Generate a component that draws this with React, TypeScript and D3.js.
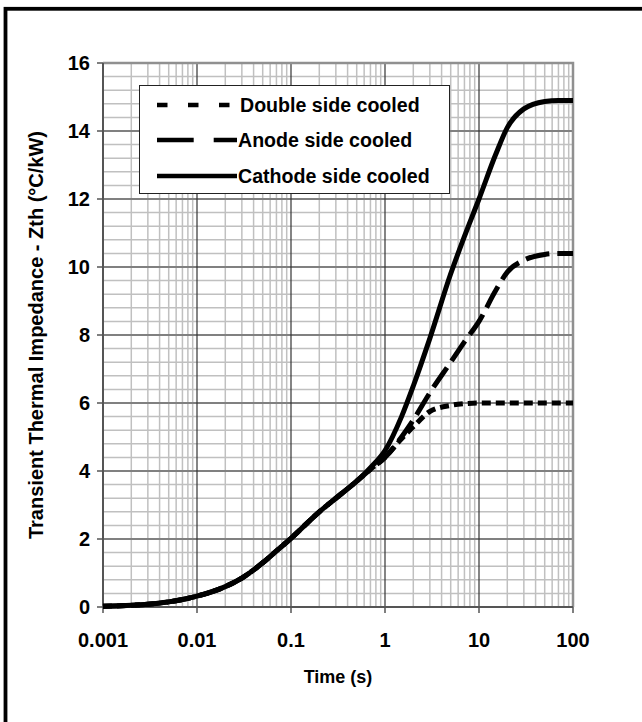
import { useEffect, useRef } from "react";
import * as d3 from "d3";

const W = 642;
const H = 722;

// time points (s), shared by the three series
const times = [
  0.001, 0.002, 0.003, 0.005, 0.007, 0.01, 0.02, 0.03, 0.05, 0.07, 0.1, 0.2, 0.3, 0.5, 0.7, 1,
  1.5, 2, 3, 5, 7, 10, 15, 20, 30, 50, 70, 100,
];
const doubleSide = [
  0.02, 0.05, 0.08, 0.15, 0.22, 0.32, 0.6, 0.85, 1.3, 1.65, 2.02, 2.8, 3.2, 3.7, 4.05, 4.4,
  4.95, 5.3, 5.75, 5.93, 5.98, 6.0, 6.0, 6.0, 6.0, 6.0, 6.0, 6.0,
];
const anodeSide = [
  0.02, 0.05, 0.08, 0.15, 0.22, 0.32, 0.6, 0.85, 1.3, 1.65, 2.02, 2.8, 3.2, 3.7, 4.05, 4.4,
  5.0, 5.5, 6.3, 7.2, 7.8, 8.4, 9.3, 9.85, 10.2, 10.37, 10.4, 10.4,
];
const cathodeSide = [
  0.02, 0.05, 0.08, 0.15, 0.22, 0.32, 0.6, 0.85, 1.3, 1.65, 2.02, 2.8, 3.2, 3.7, 4.1, 4.6,
  5.6, 6.5, 7.9, 9.8, 10.9, 12.0, 13.3, 14.1, 14.65, 14.87, 14.9, 14.9,
];

const seriesNames = ["Double side cooled", "Anode side cooled", "Cathode side cooled"];
const seriesValues = [doubleSide, anodeSide, cathodeSide];
const plotDash = ["9 5", "24 8", null];
const legendDash = ["10.5 20.5", "36.7 20", null];

const xTicks = [0.001, 0.01, 0.1, 1, 10, 100];
const xTickLabels = ["0.001", "0.01", "0.1", "1", "10", "100"];
const yTicks = [0, 2, 4, 6, 8, 10, 12, 14, 16];

const FONT = "'Liberation Sans', Arial, sans-serif";

export default function App() {
  const ref = useRef<SVGSVGElement>(null);

  useEffect(() => {
    const svg = d3.select(ref.current);
    svg.selectAll("*").remove();

    const x = d3.scaleLog().domain([0.001, 100]).range([103, 573]);
    const y = d3.scaleLinear().domain([0, 16]).range([607, 63]);

    svg.append("rect").attr("width", W).attr("height", H).attr("fill", "#fff");

    // outer frame (runs off the right and bottom edges)
    svg
      .append("rect")
      .attr("x", 5.5)
      .attr("y", 8.8)
      .attr("width", W + 20)
      .attr("height", H + 20)
      .attr("fill", "none")
      .attr("stroke", "#000")
      .attr("stroke-width", 3.8);

    const g = svg.append("g");

    // minor vertical grid
    const minorX: number[] = [];
    for (let e = -3; e < 2; e++) for (let k = 2; k <= 9; k++) minorX.push(k * Math.pow(10, e));
    g.selectAll("line.mx")
      .data(minorX)
      .join("line")
      .attr("x1", (d) => x(d))
      .attr("x2", (d) => x(d))
      .attr("y1", y(0))
      .attr("y2", y(16))
      .attr("stroke", "#c0c0c0")
      .attr("stroke-width", 1.5);

    // minor horizontal grid
    const minorY = d3.range(0, 16.001, 0.4).filter((v) => Math.abs(v / 2 - Math.round(v / 2)) > 1e-6);
    g.selectAll("line.my")
      .data(minorY)
      .join("line")
      .attr("x1", x(0.001))
      .attr("x2", x(100))
      .attr("y1", (d) => y(d))
      .attr("y2", (d) => y(d))
      .attr("stroke", "#c0c0c0")
      .attr("stroke-width", 1.5);

    // major horizontal
    g.selectAll("line.My")
      .data(yTicks.slice(1, -1))
      .join("line")
      .attr("x1", x(0.001))
      .attr("x2", x(100))
      .attr("y1", (d) => y(d))
      .attr("y2", (d) => y(d))
      .attr("stroke", "#808080")
      .attr("stroke-width", 2);

    // major vertical
    g.selectAll("line.Mx")
      .data(xTicks.slice(1, -1))
      .join("line")
      .attr("x1", (d) => x(d))
      .attr("x2", (d) => x(d))
      .attr("y1", y(0))
      .attr("y2", y(16))
      .attr("stroke", "#333")
      .attr("stroke-width", 1.2);

    // plot frame top/right
    g.append("path")
      .attr("d", `M${x(0.001)},${y(16)}H${x(100)}V${y(0)}`)
      .attr("fill", "none")
      .attr("stroke", "#909090")
      .attr("stroke-width", 2.5);

    // axes
    g.append("path")
      .attr("d", `M${x(0.001)},${y(16)}V${y(0)}H${x(100)}`)
      .attr("fill", "none")
      .attr("stroke", "#555")
      .attr("stroke-width", 2);
    g.selectAll("line.yt")
      .data(yTicks)
      .join("line")
      .attr("x1", x(0.001) - 6)
      .attr("x2", x(0.001))
      .attr("y1", (d) => y(d))
      .attr("y2", (d) => y(d))
      .attr("stroke", "#555")
      .attr("stroke-width", 1.5);
    g.selectAll("line.xt")
      .data(xTicks)
      .join("line")
      .attr("x1", (d) => x(d))
      .attr("x2", (d) => x(d))
      .attr("y1", y(0))
      .attr("y2", y(0) + 6)
      .attr("stroke", "#555")
      .attr("stroke-width", 1.5);

    // tick labels
    g.selectAll("text.yl")
      .data(yTicks)
      .join("text")
      .attr("x", x(0.001) - 13)
      .attr("y", (d) => y(d) + 7)
      .attr("text-anchor", "end")
      .attr("font-family", FONT)
      .attr("font-weight", "bold")
      .attr("font-size", 20)
      .text((d) => String(d));
    g.selectAll("text.xl")
      .data(xTicks)
      .join("text")
      .attr("x", (d) => x(d))
      .attr("y", 647)
      .attr("text-anchor", "middle")
      .attr("font-family", FONT)
      .attr("font-weight", "bold")
      .attr("font-size", 20)
      .text((_, i) => xTickLabels[i]);

    // axis titles
    g.append("text")
      .attr("x", 338)
      .attr("y", 683)
      .attr("text-anchor", "middle")
      .attr("font-family", FONT)
      .attr("font-weight", "bold")
      .attr("font-size", 18)
      .text("Time (s)");
    g.append("text")
      .attr("transform", `translate(43,${(y(0) + y(16)) / 2}) rotate(-90)`)
      .attr("text-anchor", "middle")
      .attr("font-family", FONT)
      .attr("font-weight", "bold")
      .attr("font-size", 20)
      .text("Transient Thermal Impedance - Zth (°C/kW)");

    // curves
    const line = d3
      .line<number>()
      .x((_, i) => x(times[i]))
      .y((d) => y(d))
      .curve(d3.curveMonotoneX);
    seriesValues.forEach((vals, i) => {
      g.append("path")
        .attr("d", line(vals))
        .attr("fill", "none")
        .attr("stroke", "#000")
        .attr("stroke-width", 5)
        .attr("stroke-dasharray", plotDash[i]);
    });

    // legend
    const lg = g.append("g");
    lg.append("rect")
      .attr("x", 139.5)
      .attr("y", 85.5)
      .attr("width", 310)
      .attr("height", 108)
      .attr("fill", "#fff")
      .attr("stroke", "#222")
      .attr("stroke-width", 1);
    const rowY = [105, 140, 176];
    seriesNames.forEach((name, i) => {
      lg.append("line")
        .attr("x1", 157)
        .attr("x2", i === 0 ? 231 : 237)
        .attr("y1", rowY[i])
        .attr("y2", rowY[i])
        .attr("stroke", "#000")
        .attr("stroke-width", 4.5)
        .attr("stroke-dasharray", legendDash[i]);
      lg.append("text")
        .attr("x", i === 0 ? 240 : 238)
        .attr("y", rowY[i] + 7)
        .attr("font-family", FONT)
        .attr("font-weight", "bold")
        .attr("font-size", 19.6)
        .text(name);
    });
  }, []);

  return (
    <svg
      ref={ref}
      width={W}
      height={H}
      style={{ position: "absolute", left: 0, top: 0, display: "block" }}
    />
  );
}
